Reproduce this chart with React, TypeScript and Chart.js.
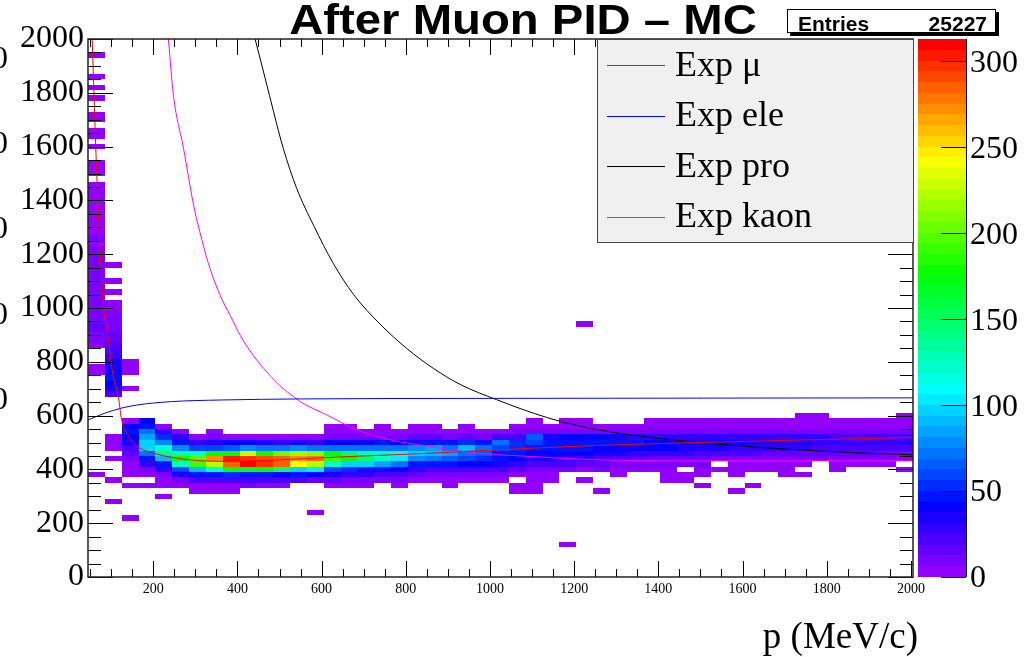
import React, { useEffect, useRef } from 'react';
import { Chart, registerables } from 'chart.js';

Chart.register(...registerables);

// ---------- axis settings ----------
const X_MIN = 45;
const X_MAX = 2005;
const X_BIN = 40;
const Y_BIN = 20;
const Z_MAX = 313;

const xTickValues = [200, 400, 600, 800, 1000, 1200, 1400, 1600, 1800, 2000];
const yTickValues = [0, 200, 400, 600, 800, 1000, 1200, 1400, 1600, 1800, 2000];
const zTickValues = [0, 50, 100, 150, 200, 250, 300];

const titleText = 'After Muon PID \u2013 MC';
const entriesLabel = 'Entries';
const entriesValue = '25227';
const xTitle = 'p (MeV/c)';
const legendLabels = ['Exp \u03bc', 'Exp ele', 'Exp pro', 'Exp kaon'];

// ---------- histogram cells ----------
// [x low edge, y low edge of the top cell, counts from the top cell downward (20 per step)]
const lowMomentumCells: [number, number, number[]][] = [
  [45, 1930, [3]],
  [45, 1850, [4]],
  [45, 1810, [3]],
  [45, 1770, [3]],
  [45, 1710, [4, 3]],
  [45, 1650, [3, 4]],
  [45, 1590, [3]],
  [45, 1530, [4, 3, 4]],
  [45, 1450, [4, 5, 4, 5, 4, 6, 5, 6, 5, 6, 7, 6, 7, 8, 7, 9, 10, 9, 8, 9, 10, 9, 11, 10, 12, 11, 13, 14, 12, 10, 6]],
  [45, 770, [4, 3]],
  [45, 370, [3]],
  [85, 1150, [4]],
  [85, 1090, [4]],
  [85, 1050, [5]],
  [85, 1010, [5, 6, 7, 8, 10, 12, 14, 16, 20, 24, 28, 32, 36, 40, 44, 42, 36, 20]],
  [85, 510, [5, 6, 5]],
  [85, 430, [4]],
  [85, 350, [3]],
  [125, 790, [6, 5, 4]],
  [125, 690, [3]],
];

const bandCells: [number, number, number[]][] = [
  [125, 570, [5, 40, 45, 42, 35, 25, 15, 8, 6, 4, 3, 0, 2]],
  [165, 570, [40, 45, 70, 85, 95, 100, 75, 45, 30, 12, 6, 0, 3]],
  [205, 550, [5, 30, 55, 80, 125, 140, 90, 50, 30, 10, 6, 5]],
  [245, 530, [5, 28, 50, 80, 130, 180, 120, 60, 35, 12, 5]],
  [285, 510, [5, 30, 60, 120, 200, 190, 90, 45, 20, 6, 3]],
  [325, 530, [4, 8, 35, 60, 170, 270, 220, 120, 50, 20, 6, 3]],
  [365, 510, [6, 40, 65, 175, 305, 285, 170, 55, 22, 6, 3]],
  [405, 510, [6, 40, 80, 230, 300, 313, 165, 50, 25, 7]],
  [445, 510, [5, 35, 70, 180, 290, 295, 175, 45, 22, 6]],
  [485, 510, [6, 30, 70, 205, 285, 285, 150, 40, 20, 6]],
  [525, 510, [5, 35, 80, 215, 275, 240, 100, 45, 20]],
  [565, 510, [5, 30, 75, 210, 280, 225, 105, 40, 18]],
  [605, 550, [5, 6, 8, 40, 70, 175, 190, 120, 60, 35, 15, 5]],
  [645, 550, [5, 6, 10, 40, 75, 150, 170, 100, 55, 30, 12, 4]],
  [685, 530, [5, 10, 38, 70, 130, 150, 95, 50, 28, 10, 4]],
  [725, 550, [5, 6, 10, 45, 75, 125, 120, 85, 45, 25, 8]],
  [765, 530, [5, 12, 40, 70, 110, 105, 75, 42, 22, 8, 3]],
  [805, 550, [5, 6, 15, 45, 80, 95, 80, 50, 30, 15, 6]],
  [845, 550, [5, 6, 15, 50, 85, 90, 70, 45, 25, 12, 5]],
  [885, 530, [5, 12, 45, 75, 85, 65, 45, 25, 12, 5, 4]],
  [925, 550, [5, 6, 15, 55, 90, 75, 60, 40, 22, 10, 5]],
  [965, 530, [5, 12, 45, 70, 65, 55, 40, 22, 10, 4]],
  [1005, 530, [5, 20, 75, 60, 50, 45, 35, 20, 8, 3]],
  [1045, 550, [5, 8, 25, 55, 55, 45, 40, 30, 15, 6, 0, 3, 3]],
  [1085, 570, [4, 5, 10, 65, 60, 50, 42, 35, 25, 12, 5, 3, 3, 3]],
  [1125, 550, [5, 8, 35, 50, 50, 42, 35, 22, 10, 5, 3]],
  [1165, 570, [5, 6, 10, 40, 50, 45, 40, 30, 20, 8]],
  [1205, 570, [5, 6, 12, 40, 50, 45, 38, 28, 18, 6, 0, 3]],
  [1245, 550, [5, 10, 38, 48, 42, 35, 25, 15, 8, 0, 0, 0, 3]],
  [1285, 550, [5, 8, 35, 45, 42, 35, 22, 12, 6, 4]],
  [1325, 550, [5, 8, 30, 45, 40, 30, 20, 12, 5]],
  [1365, 570, [4, 5, 10, 30, 42, 40, 30, 18, 10, 4]],
  [1405, 570, [4, 5, 10, 28, 40, 38, 28, 18, 8, 4, 3, 3]],
  [1445, 570, [4, 6, 12, 30, 42, 36, 26, 16, 8, 0, 4, 3]],
  [1485, 570, [4, 6, 12, 28, 40, 35, 25, 15, 8, 4, 4, 0, 3]],
  [1525, 570, [4, 5, 10, 28, 38, 32, 22, 12, 0, 4]],
  [1565, 570, [4, 5, 10, 26, 36, 30, 20, 12, 6, 4, 3, 0, 0, 3]],
  [1605, 570, [4, 5, 10, 28, 36, 30, 20, 12, 6, 4, 0, 0, 3]],
  [1645, 570, [4, 5, 10, 26, 34, 28, 18, 10, 5, 4]],
  [1685, 570, [4, 6, 12, 28, 34, 28, 18, 10, 5, 4, 4]],
  [1725, 590, [4, 5, 6, 12, 28, 32, 26, 16, 10, 5, 0, 4]],
  [1765, 590, [4, 5, 6, 12, 26, 30, 25, 15, 8]],
  [1805, 570, [4, 5, 10, 25, 30, 25, 15, 8, 5, 4]],
  [1845, 570, [4, 5, 10, 24, 30, 24, 14, 8, 5]],
  [1885, 570, [4, 5, 10, 24, 28, 22, 14, 8, 5]],
  [1925, 570, [4, 5, 10, 22, 28, 22, 12, 7, 4]],
  [1965, 590, [4, 5, 6, 12, 25, 28, 22, 12, 6, 0, 4]],
];

// [x low edge, y low edge, count]
const strayCells: [number, number, number][] = [
  [85, 270, 2],
  [125, 210, 2],
  [205, 290, 2],
  [565, 230, 2],
  [1165, 110, 2],
  [1205, 930, 3],
];

// ---------- expectation curves ----------
const muonCurve: [number, number][] = [
  [55, 2000], [65, 1530], [74, 1209], [82, 1008], [93, 886], [103, 763], [118, 662], [124, 592],
  [141, 525], [164, 484], [204, 459], [243, 445], [283, 436], [361, 430], [442, 432], [521, 437],
  [599, 443], [699, 450], [858, 460], [1017, 473], [1174, 484], [1333, 493], [1546, 502],
  [1706, 508], [1926, 516], [2005, 519],
];
const electronCurve: [number, number][] = [
  [45, 584], [85, 609], [125, 628], [164, 640], [243, 652], [361, 658], [549, 662], [1000, 664],
  [1490, 665], [2005, 666],
];
const protonCurve: [number, number][] = [
  [442, 2000], [466, 1853], [486, 1729], [509, 1593], [541, 1444], [581, 1307], [628, 1165],
  [676, 1050], [739, 940], [802, 850], [866, 775], [929, 716], [1016, 659], [1135, 593],
  [1214, 561], [1333, 528], [1451, 507], [1570, 490], [1729, 473], [1887, 461], [2005, 454],
];
const kaonCurve: [number, number][] = [
  [236, 2000], [248, 1791], [272, 1593], [296, 1382], [319, 1233], [335, 1146], [359, 1047],
  [383, 972], [407, 898], [438, 823], [470, 762], [509, 700], [541, 662], [549, 652], [612, 603],
  [684, 547], [763, 510], [858, 485], [936, 466], [1095, 448], [1333, 433], [1546, 432], [2005, 432],
];

const curveColors = ['#ff0000', '#0000ff', '#000000', '#ff00ff'];

function paletteColor(v: number): string {
  let i = Math.floor((v / Z_MAX) * 50);
  if (i > 49) i = 49;
  if (i < 0) i = 0;
  const hue = 280 - (i + 1) * 5.6;
  return `hsl(${hue}, 100%, 50%)`;
}

const rootPlugin = {
  id: 'rootStyle',
  beforeDatasetsDraw(chart: any) {
    const { ctx, chartArea: a, scales } = chart;
    const xs = scales.x;
    const ys = scales.y;
    ctx.save();
    ctx.beginPath();
    ctx.rect(a.left, a.top, a.right - a.left, a.bottom - a.top);
    ctx.clip();
    const cell = (xl: number, yl: number, v: number) => {
      if (v <= 0) return;
      const x0 = Math.round(xs.getPixelForValue(xl));
      const x1 = Math.round(xs.getPixelForValue(xl + X_BIN));
      const y0 = Math.round(ys.getPixelForValue(yl + Y_BIN));
      const y1 = Math.round(ys.getPixelForValue(yl));
      ctx.fillStyle = paletteColor(v);
      ctx.fillRect(x0, y0, x1 - x0, y1 - y0);
    };
    const columns = [...lowMomentumCells, ...bandCells];
    for (const [xl, top, vals] of columns) {
      vals.forEach((v, k) => cell(xl, top - k * Y_BIN, v));
    }
    for (const [xl, yl, v] of strayCells) cell(xl, yl, v);
    ctx.restore();
  },
  afterDatasetsDraw(chart: any) {
    const { ctx, chartArea: a, scales } = chart;
    const xs = scales.x;
    const ys = scales.y;
    ctx.save();
    ctx.strokeStyle = '#000';
    ctx.lineWidth = 1;
    ctx.beginPath();
    for (let v = 0; v <= 2000; v += 50) {
      const py = Math.round(ys.getPixelForValue(v)) + 0.5;
      const len = v % 200 === 0 ? 25 : 13;
      ctx.moveTo(a.left, py);
      ctx.lineTo(a.left + len, py);
      ctx.moveTo(a.right, py);
      ctx.lineTo(a.right - len, py);
    }
    for (let v = 50; v <= 2000; v += 50) {
      if (v < X_MIN) continue;
      const px = Math.round(xs.getPixelForValue(v)) + 0.5;
      const len = v % 200 === 0 ? 16 : 8;
      ctx.moveTo(px, a.bottom);
      ctx.lineTo(px, a.bottom - len);
      ctx.moveTo(px, a.top);
      ctx.lineTo(px, a.top + len);
    }
    ctx.stroke();
    ctx.lineWidth = 1.5;
    ctx.strokeStyle = '#222';
    ctx.strokeRect(a.left, a.top, a.right - a.left, a.bottom - a.top);
    ctx.restore();
  },
  afterDraw(chart: any) {
    const { ctx, chartArea: a, scales } = chart;
    const zs = scales.z;
    ctx.save();
    // colour bar
    const cbL = a.right + 5;
    const cbR = a.right + 53;
    for (let i = 0; i < 50; i++) {
      const y0 = Math.round(zs.getPixelForValue(((i + 1) * Z_MAX) / 50));
      const y1 = Math.round(zs.getPixelForValue((i * Z_MAX) / 50));
      ctx.fillStyle = paletteColor(((i + 0.5) * Z_MAX) / 50);
      ctx.fillRect(cbL, y0, cbR - cbL, y1 - y0);
    }
    ctx.strokeStyle = '#000';
    ctx.lineWidth = 1;
    ctx.beginPath();
    ctx.moveTo(cbR + 0.5, zs.getPixelForValue(Z_MAX));
    ctx.lineTo(cbR + 0.5, zs.getPixelForValue(0));
    for (const v of zTickValues) {
      const py = Math.round(zs.getPixelForValue(v)) + 0.5;
      ctx.moveTo(cbR, py);
      ctx.lineTo(cbR - 25, py);
    }
    ctx.stroke();
    ctx.fillStyle = '#000';
    ctx.font = '32px "Liberation Serif"';
    ctx.textAlign = 'left';
    ctx.textBaseline = 'middle';
    for (const v of zTickValues) {
      ctx.fillText(String(v), cbR + 4, zs.getPixelForValue(v) + 2);
    }

    // legend
    ctx.fillStyle = '#f0f0f0';
    ctx.fillRect(597, 39, 316, 203);
    ctx.strokeStyle = '#444';
    ctx.lineWidth = 1;
    ctx.strokeRect(597.5, 39.5, 316, 203);
    ctx.font = '36px "Liberation Serif"';
    ctx.textAlign = 'left';
    ctx.textBaseline = 'alphabetic';
    legendLabels.forEach((lab, i) => {
      const ly = 65 + i * 50.5;
      ctx.strokeStyle = curveColors[i];
      ctx.lineWidth = 1.2;
      ctx.beginPath();
      ctx.moveTo(607, Math.round(ly) + 0.5);
      ctx.lineTo(665, Math.round(ly) + 0.5);
      ctx.stroke();
      ctx.fillStyle = '#000';
      ctx.fillText(lab, 675, ly + 10.5);
    });

    // title
    ctx.save();
    ctx.translate(523, 34);
    ctx.scale(1.1, 1);
    ctx.font = 'bold 43px "Liberation Sans"';
    ctx.textAlign = 'center';
    ctx.fillStyle = '#000';
    ctx.fillText(titleText, 0, 0);
    ctx.restore();

    // entries box
    ctx.fillStyle = '#000';
    ctx.fillRect(790, 12, 209, 24);
    ctx.fillStyle = '#fff';
    ctx.fillRect(787, 9, 209, 24);
    ctx.strokeStyle = '#000';
    ctx.lineWidth = 1;
    ctx.strokeRect(787.5, 9.5, 208, 23);
    ctx.fillStyle = '#000';
    ctx.font = 'bold 21px "Liberation Sans"';
    ctx.textAlign = 'left';
    ctx.fillText(entriesLabel, 798, 31);
    ctx.textAlign = 'right';
    ctx.fillText(entriesValue, 987, 31);

    // x axis title
    ctx.font = '37px "Liberation Serif"';
    ctx.textAlign = 'right';
    ctx.fillText(xTitle, 918, 648);

    // clipped labels of the neighbouring pad
    ctx.font = '32px "Liberation Serif"';
    ctx.textBaseline = 'middle';
    for (const y of [60, 145, 230, 316, 401]) ctx.fillText('0', 8, y);
    ctx.restore();
  },
};

export default function App() {
  const ref = useRef<HTMLCanvasElement | null>(null);
  useEffect(() => {
    if (!ref.current) return;
    const toXY = (arr: [number, number][]) => arr.map(([x, y]) => ({ x, y }));
    const curves = [muonCurve, electronCurve, protonCurve, kaonCurve];
    const chart = new Chart(ref.current, {
      type: 'line',
      data: {
        datasets: curves.map((c, i) => ({
          label: legendLabels[i],
          data: toXY(c),
          borderColor: curveColors[i],
          borderWidth: 1,
          pointRadius: 0,
          fill: false,
          cubicInterpolationMode: 'monotone' as const,
        })),
      },
      options: {
        responsive: false,
        animation: false,
        devicePixelRatio: 1,
        events: [],
        layout: { padding: { top: 39, left: 0, right: 0, bottom: 0 } },
        plugins: {
          legend: { display: false },
          tooltip: { enabled: false },
          title: { display: false },
        },
        scales: {
          x: {
            type: 'linear',
            position: 'bottom',
            min: X_MIN,
            max: X_MAX,
            grid: { display: false, drawTicks: false },
            border: { display: false },
            afterBuildTicks: (s: any) => {
              s.ticks = xTickValues.map((v) => ({ value: v }));
            },
            afterFit: (s: any) => {
              s.height = 80;
            },
            ticks: {
              autoSkip: false,
              maxRotation: 0,
              padding: 4,
              color: '#000',
              font: { family: 'Liberation Serif', size: 14 },
              callback: (v: any) => String(v),
            },
          },
          y: {
            type: 'linear',
            position: 'left',
            min: 0,
            max: 2000,
            grid: { display: false, drawTicks: false },
            border: { display: false },
            afterBuildTicks: (s: any) => {
              s.ticks = yTickValues.map((v) => ({ value: v }));
            },
            afterFit: (s: any) => {
              s.width = 88;
            },
            ticks: {
              autoSkip: false,
              padding: 4,
              color: '#000',
              font: { family: 'Liberation Serif', size: 32 },
              callback: (v: any) => String(v),
            },
          },
          z: {
            type: 'linear',
            position: 'right',
            min: 0,
            max: Z_MAX,
            grid: { display: false, drawTicks: false },
            border: { display: false },
            afterBuildTicks: (s: any) => {
              s.ticks = zTickValues.map((v) => ({ value: v }));
            },
            afterFit: (s: any) => {
              s.width = 113;
            },
            ticks: { display: false },
          },
        },
      },
      plugins: [rootPlugin],
    } as any);
    return () => chart.destroy();
  }, []);
  return (
    <div style={{ position: 'fixed', left: 0, top: 0, width: 1026, height: 657, background: '#fff' }}>
      <canvas ref={ref} width={1026} height={657} style={{ display: 'block' }} />
    </div>
  );
}
